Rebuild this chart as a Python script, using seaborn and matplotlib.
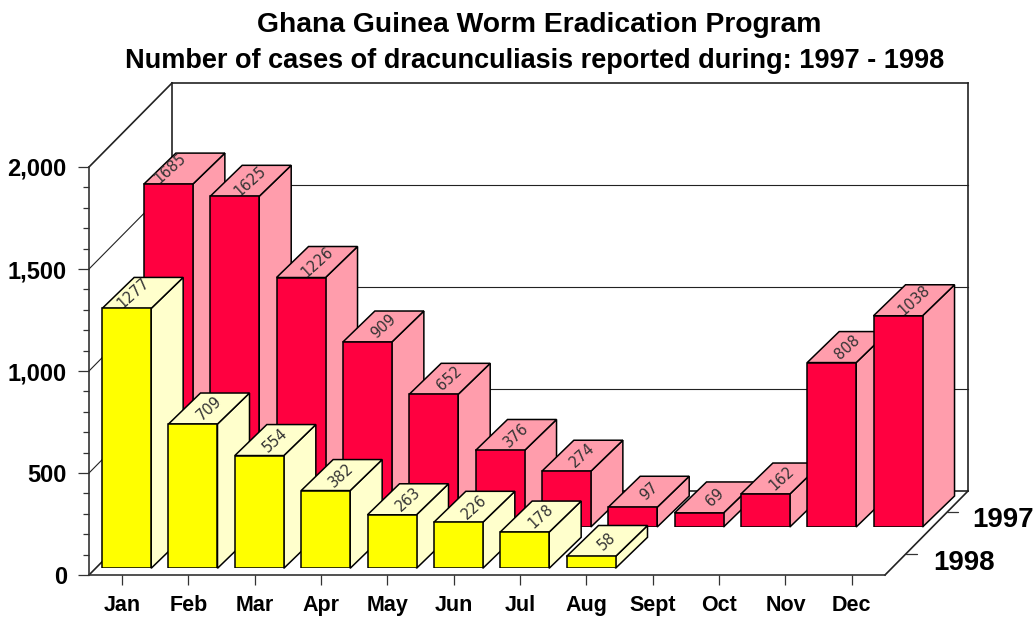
import numpy as np
import pandas as pd
import matplotlib
matplotlib.use('Agg')
import matplotlib.pyplot as plt
from matplotlib.patches import Polygon
import seaborn as sns

months = ['Jan', 'Feb', 'Mar', 'Apr', 'May', 'Jun', 'Jul', 'Aug', 'Sept', 'Oct', 'Nov', 'Dec']
cases_1997 = [1685, 1625, 1226, 909, 652, 376, 274, 97, 69, 162, 808, 1038]
cases_1998 = [1277, 709, 554, 382, 263, 226, 178, 58, np.nan, np.nan, np.nan, np.nan]
series_labels = ['1997', '1998']

# ── Layout in pixels (reference is 1035x617) ──────────────────────────────────
W, H = 1035, 617
FRONT_LEFT, FRONT_RIGHT = 89, 885
FRONT_TOP, FRONT_BOTTOM = 167, 575
PX_PER_CAT  = (FRONT_RIGHT - FRONT_LEFT) / 12
PX_PER_UNIT = (FRONT_BOTTOM - FRONT_TOP) / 2000
BAR_PX_PER_UNIT = 0.2035     # bars come out a touch shorter than the axis scale
WALL_DX, WALL_DY = 83, 84    # box depth
BAR_DX, BAR_DY   = 32, 31    # bar depth
BAR_WIDTH = 49 / PX_PER_CAT

sns.set_theme(style='white')
plt.rcParams['font.family'] = ['Liberation Sans', 'DejaVu Sans']
plt.rcParams['text.color'] = 'black'


def px_axes(fig, left, bottom, zorder, px_per_unit=PX_PER_UNIT):
    """Axes of the front-plane width, with its lower left corner at a pixel spot."""
    width, height = FRONT_RIGHT - FRONT_LEFT, 2000 * px_per_unit
    ax = fig.add_axes([left / W, 1 - bottom / H, width / W, height / H], zorder=zorder)
    ax.patch.set_alpha(0)
    ax.set_xlim(-0.5, 11.5)
    ax.set_ylim(0, 2000)
    return ax


def draw_series(ax, values, front, light, label_nudge):
    df = pd.DataFrame({'month': months, 'cases': values}).dropna()
    sns.barplot(data=df, x='month', y='cases', order=months, color=front, saturation=1,
                width=BAR_WIDTH, edgecolor='black', linewidth=1.1, ax=ax)
    ax.set_xlim(-0.5, 11.5)
    ax.set_ylim(0, 2000)
    ax.axis('off')

    dx = BAR_DX / PX_PER_CAT
    dy = BAR_DY / BAR_PX_PER_UNIT
    for i, bar in enumerate(list(ax.patches)):
        x0, w, h = bar.get_x(), bar.get_width(), bar.get_height()
        if np.isnan(h) or h == 0:
            continue
        z = 3 + i * 3
        bar.set_zorder(z + 2)
        side = [(x0 + w, 0), (x0 + w + dx, dy), (x0 + w + dx, h + dy), (x0 + w, h)]
        top = [(x0, h), (x0 + dx, h + dy), (x0 + w + dx, h + dy), (x0 + w, h)]
        for pts in (side, top):
            ax.add_patch(Polygon(pts, closed=True, facecolor=light, edgecolor='black',
                                 linewidth=1.1, zorder=z, clip_on=False))
        nudge = label_nudge.get(int(h), 0) / PX_PER_CAT
        ax.text(x0 + (w + dx) / 2 + nudge, h + dy / 2, f'{h:.0f}', rotation=42,
                rotation_mode='anchor', ha='center', va='center', fontsize=10.5,
                family='DejaVu Sans', color='#333333', zorder=z + 1, clip_on=False)


fig = plt.figure(figsize=(W / 100, H / 100), dpi=100, facecolor='white')

# ── Box: front axes carries the real ticks, walls are drawn from its scales ───
ax = px_axes(fig, FRONT_LEFT, FRONT_BOTTOM, 1)
wall_dx = WALL_DX / PX_PER_CAT
wall_dy = WALL_DY / PX_PER_UNIT
line = dict(color='#222222', clip_on=False, solid_capstyle='projecting')

for v in [500, 1000, 1500]:
    ax.plot([-0.5, -0.5 + wall_dx], [v, v + wall_dy], lw=0.8, **line)
    ax.plot([-0.5 + wall_dx, 11.5 + wall_dx], [v + wall_dy] * 2, lw=0.8, **line)
for x_front, v in [(-0.5, 0), (-0.5, 2000), (11.5, 0)]:
    ax.plot([x_front, x_front + wall_dx], [v, v + wall_dy], lw=1.2, **line)
ax.plot([-0.5 + wall_dx, 11.5 + wall_dx], [2000 + wall_dy] * 2, lw=1.2, **line)
ax.plot([-0.5 + wall_dx, 11.5 + wall_dx], [wall_dy] * 2, lw=1.2, **line)
ax.plot([-0.5 + wall_dx] * 2, [wall_dy, 2000 + wall_dy], lw=1.2, **line)
ax.plot([11.5 + wall_dx] * 2, [wall_dy, 2000 + wall_dy], lw=1.2, **line)

for s in ['top', 'right']:
    ax.spines[s].set_visible(False)
for s in ['left', 'bottom']:
    ax.spines[s].set_color('#333333')
    ax.spines[s].set_linewidth(1.2)

ax.set_xticks(range(12), months, fontsize=15.5, fontweight='bold', color='black')
ax.set_yticks([0, 500, 1000, 1500, 2000], ['0', '500', '1,000', '1,500', '2,000'],
              fontsize=17, fontweight='bold', color='black')
ax.set_yticks(np.arange(0, 2001, 100), minor=True)
ax.tick_params(axis='x', which='major', bottom=True, length=7.2, width=0.9, pad=7, color='#333333')
ax.tick_params(axis='y', which='major', left=True, length=8, width=0.9, pad=8, color='#333333')
ax.tick_params(axis='y', which='minor', left=True, length=4.3, width=0.9, color='#333333')

# series ticks on the floor's right edge
for label, frac, off in zip(series_labels, [0.75, 0.25], [(25, -8), (28, -9)]):
    xt, yt = 11.5 + frac * wall_dx, frac * wall_dy
    ax.plot([xt, xt + 11 / PX_PER_CAT], [yt, yt], lw=0.9, color='#333333', clip_on=False)
    ax.annotate(label, xy=(xt, yt), xytext=(off[0], off[1]), textcoords='offset pixels',
                ha='left', va='center', fontsize=20, fontweight='bold', color='black',
                annotation_clip=False)

# ── Bars: each year has its own axes, shifted back on the floor ───────────────
ax97 = px_axes(fig, FRONT_LEFT + 46.2, 527, 2, BAR_PX_PER_UNIT)
draw_series(ax97, cases_1997, '#FF0040', '#FF9DAC', {1685: -14})

ax98 = px_axes(fig, FRONT_LEFT + 4.5, 568.3, 3, BAR_PX_PER_UNIT)
draw_series(ax98, cases_1998, '#FFFF00', '#FFFFCC', {1277: -9})

# ── Title ─────────────────────────────────────────────────────────────────────
fig.text(539 / W, 1 - 25 / H, 'Ghana Guinea Worm Eradication Program',
         ha='center', va='center', fontsize=20.3, fontweight='bold', color='black')
fig.text(534.5 / W, 1 - 61 / H, 'Number of cases of dracunculiasis reported during: 1997 - 1998',
         ha='center', va='center', fontsize=19.5, fontweight='bold', color='black')

fig.savefig('out.png', dpi=100)
plt.close(fig)
